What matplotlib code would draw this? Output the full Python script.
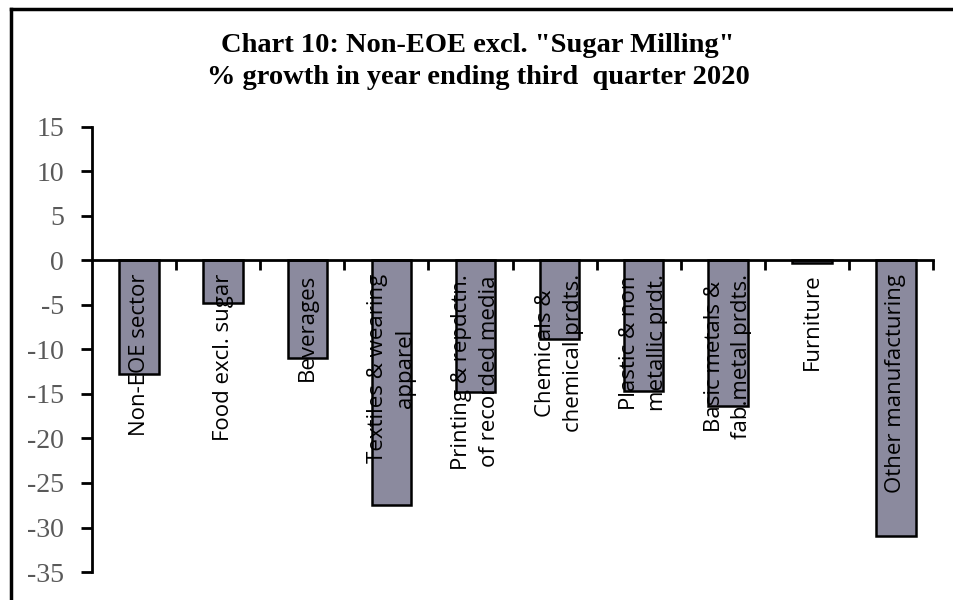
import matplotlib
matplotlib.use("Agg")
import matplotlib.pyplot as plt
import numpy as np
from matplotlib.lines import Line2D

categories = ["Non-EOE sector", "Food excl. sugar", "Beverages",
              "Textiles & wearing\napparel", "Printing & repdctn.\nof recorded media",
              "Chemicals &\nchemical prdts.", "Plastic & non\nmetallic prdt.",
              "Basic metals &\nfab.metal prdts.", "Furniture", "Other manufacturing"]
values = [-12.8, -4.8, -10.9, -27.5, -14.8, -8.8, -14.7, -16.3, -0.3, -30.9]
yticks = [15, 10, 5, 0, -5, -10, -15, -20, -25, -30, -35]

fig = plt.figure(figsize=(9.54, 6.0), dpi=100)
ax = fig.add_axes([92/954, 28/600, (933-92)/954, (572-127)/600])

x = np.arange(len(categories))
ax.bar(x + 0.06, values, width=0.47, color="#8b8a9e", edgecolor="black", linewidth=1.8, zorder=2)

for xi, lab in zip(x, categories):
    ax.text(xi + 0.06, -1.5, lab, rotation=90, ha="center", va="top", multialignment="center",
            fontsize=16, linespacing=1.4, family=["Open Sans", "DejaVu Sans"], color="black", zorder=3)

ax.set_xlim(-0.5, 9.5)
ax.set_ylim(-35, 15)
ax.set_yticks(yticks)
ax.set_yticklabels([str(t) for t in yticks], family="Liberation Serif", fontsize=20, color="#595959")
ax.set_xticks(np.arange(0.5, 10.0, 1.0))
ax.set_xticklabels([])
ax.tick_params(axis="x", direction="out", length=7, width=2, color="black")
ax.tick_params(axis="y", direction="out", length=8, width=2, color="black", pad=12)

for s in ["top", "right"]:
    ax.spines[s].set_visible(False)
ax.spines["bottom"].set_position(("data", 0))
ax.spines["bottom"].set_linewidth(2)
ax.spines["bottom"].set_zorder(4)
ax.spines["left"].set_linewidth(2)

fig.text(478/954, 1 - 45/600, 'Chart 10: Non-EOE excl. "Sugar Milling"', ha="center", va="center",
         family="Liberation Serif", fontweight="bold", fontsize=20.5)
fig.text(478/954, 1 - 78/600, "% growth in year ending third  quarter 2020", ha="center", va="center",
         family="Liberation Serif", fontweight="bold", fontsize=20.5)

fig.add_artist(Line2D([11/954, 11/954], [0, 1 - 9/600], transform=fig.transFigure, color="black", lw=2.5))
fig.add_artist(Line2D([11/954, 1], [1 - 9/600, 1 - 9/600], transform=fig.transFigure, color="black", lw=2.5))

fig.savefig("out.png", dpi=100)
